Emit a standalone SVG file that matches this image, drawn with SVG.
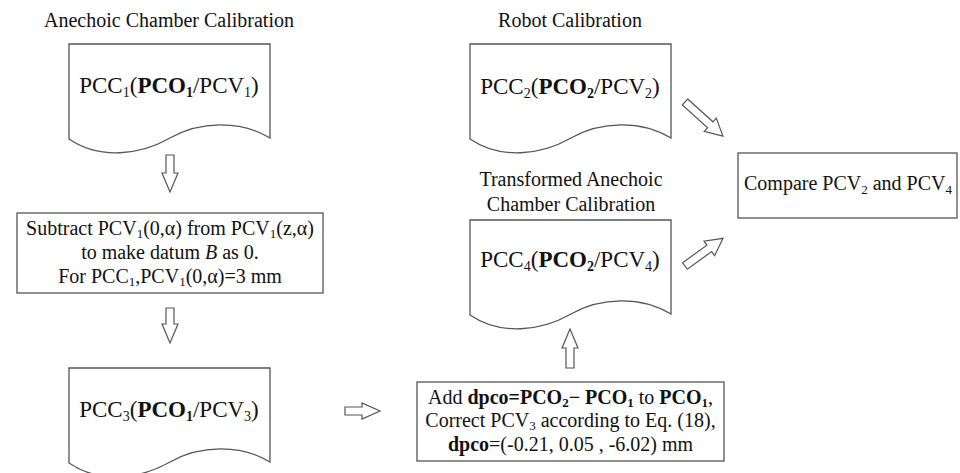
<svg xmlns="http://www.w3.org/2000/svg" xmlns:xlink="http://www.w3.org/1999/xlink" width="960" height="473" viewBox="0 0 960 473">
<style>
.shape{fill:#fff;stroke:#555;stroke-width:1.3}
.arrow{fill:#fff;stroke:#555;stroke-width:1.2}
text{font-family:"Liberation Serif","Times New Roman",serif;fill:#111}
.t20{font-size:20px}
.big{font-size:23px}
.b{font-weight:bold}
.sub{font-size:14px}
.ssub{font-size:13px}
</style>
<defs>
<path id="doc" d="M0,0 H201 V94 C171,76 131,77 101,94 C71,111 31,116 0,95 Z"/>
</defs>
<rect width="960" height="473" fill="#fff"/>

<g id="title-anechoic"><text class="t20" x="169" y="27" text-anchor="middle">Anechoic Chamber Calibration</text></g>
<g id="title-robot"><text class="t20" x="570" y="27" text-anchor="middle">Robot Calibration</text></g>
<g id="title-transformed"><text class="t20" x="571" y="186" text-anchor="middle">Transformed Anechoic</text><text class="t20" x="571" y="211" text-anchor="middle">Chamber Calibration</text></g>

<g id="pcc1">
<use xlink:href="#doc" class="shape" transform="translate(69,44)"/>
<text class="big" x="169" y="93" text-anchor="middle">PCC<tspan class="sub" dy="4">1</tspan><tspan dy="-4">(</tspan><tspan class="b">PCO</tspan><tspan class="b sub" dy="4">1</tspan><tspan dy="-4">/PCV</tspan><tspan class="sub" dy="4">1</tspan><tspan dy="-4">)</tspan></text>
</g>

<g id="subtract">
<rect class="shape" x="17" y="213" width="306" height="80"/>
<text class="t20" x="170" y="235" text-anchor="middle">Subtract PCV<tspan class="ssub" dy="3">1</tspan><tspan dy="-3">(0,α) from PCV</tspan><tspan class="ssub" dy="3">1</tspan><tspan dy="-3">(z,α)</tspan></text>
<text class="t20" x="170" y="259" text-anchor="middle">to make datum <tspan font-style="italic">B</tspan> as 0.</text>
<text class="t20" x="170" y="283" text-anchor="middle">For PCC<tspan class="ssub" dy="3">1</tspan><tspan dy="-3">,PCV</tspan><tspan class="ssub" dy="3">1</tspan><tspan dy="-3">(0,α)=3 mm</tspan></text>
</g>

<g id="pcc3">
<use xlink:href="#doc" class="shape" transform="translate(69,368)"/>
<text class="big" x="169" y="417" text-anchor="middle">PCC<tspan class="sub" dy="4">3</tspan><tspan dy="-4">(</tspan><tspan class="b">PCO</tspan><tspan class="b sub" dy="4">1</tspan><tspan dy="-4">/PCV</tspan><tspan class="sub" dy="4">3</tspan><tspan dy="-4">)</tspan></text>
</g>

<g id="pcc2">
<use xlink:href="#doc" class="shape" transform="translate(470,44)"/>
<text class="big" x="570" y="94" text-anchor="middle">PCC<tspan class="sub" dy="4">2</tspan><tspan dy="-4">(</tspan><tspan class="b">PCO</tspan><tspan class="b sub" dy="4">2</tspan><tspan dy="-4">/PCV</tspan><tspan class="sub" dy="4">2</tspan><tspan dy="-4">)</tspan></text>
</g>

<g id="pcc4">
<use xlink:href="#doc" class="shape" transform="translate(470,220)"/>
<text class="big" x="570" y="267" text-anchor="middle">PCC<tspan class="sub" dy="4">4</tspan><tspan dy="-4">(</tspan><tspan class="b">PCO</tspan><tspan class="b sub" dy="4">2</tspan><tspan dy="-4">/PCV</tspan><tspan class="sub" dy="4">4</tspan><tspan dy="-4">)</tspan></text>
</g>

<g id="add">
<rect class="shape" x="417" y="382" width="307" height="79"/>
<text class="t20" x="570.5" y="404" text-anchor="middle">Add <tspan class="b">dpco=PCO</tspan><tspan class="b ssub" dy="3">2</tspan><tspan class="b" dy="-3">− PCO</tspan><tspan class="b ssub" dy="3">1</tspan><tspan dy="-3"> to </tspan><tspan class="b">PCO</tspan><tspan class="b ssub" dy="3">1</tspan><tspan dy="-3">,</tspan></text>
<text class="t20" x="570.5" y="427" text-anchor="middle">Correct PCV<tspan class="ssub" dy="3">3</tspan><tspan dy="-3"> according to Eq. (18),</tspan></text>
<text class="t20" x="570.5" y="451" text-anchor="middle"><tspan class="b">dpco</tspan>=(-0.21, 0.05 , -6.02) mm</text>
</g>

<g id="compare">
<rect class="shape" x="738" y="153" width="219" height="65"/>
<text class="t20" x="848" y="190" text-anchor="middle">Compare PCV<tspan class="ssub" dy="4">2</tspan><tspan dy="-4"> and PCV</tspan><tspan class="ssub" dy="4">4</tspan></text>
</g>

<g id="connectors">
<polygon class="arrow" points="166,155 174,155 174,173 178,173 170,192 162,173 166,173"/>
<polygon class="arrow" points="166,308 174,308 174,324 178,324 170,343 162,324 166,324"/>
<polygon class="arrow" points="566,368 574,368 574,348 578,348 570,329 562,348 566,348"/>
<polygon class="arrow" points="345,407 362,407 362,403 380,411 362,419 362,415 345,415"/>
<polygon class="arrow" transform="translate(685,102) rotate(42)" points="0,-4 34,-4 34,-9 51,0 34,9 34,4 0,4"/>
<polygon class="arrow" transform="translate(685,266) rotate(-36)" points="0,-4 30,-4 30,-9 47,0 30,9 30,4 0,4"/>
</g>
</svg>
